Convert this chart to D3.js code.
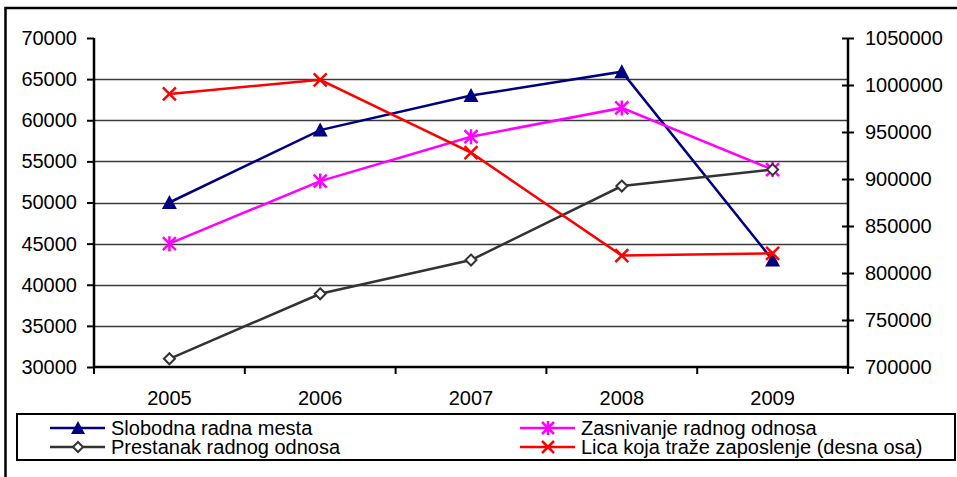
<!DOCTYPE html>
<html>
<head>
<meta charset="utf-8">
<script src="https://cdn.jsdelivr.net/npm/d3@7"></script>
<style>
	body { margin: 0; background: #fff; }
	text { font-family: "Liberation Sans", Arial, sans-serif; fill: #000; }
</style>
</head>
<body>
<div id="viz"></div>
<script>
const years = ['2005', '2006', '2007', '2008', '2009'];
const slobodna = [50000, 58800, 63000, 65900, 43000];
const zasnivanje = [45000, 52600, 58000, 61500, 54000];
const prestanak = [31000, 38900, 43000, 52000, 54000];
const lica = [990500, 1005500, 928000, 818500, 821000];
const leftTicks = [30000, 35000, 40000, 45000, 50000, 55000, 60000, 65000, 70000];
const rightTicks = [700000, 750000, 800000, 850000, 900000, 950000, 1000000, 1050000];
const seriesNames = ['Slobodna radna mesta', 'Zasnivanje radnog odnosa', 'Prestanak radnog odnosa', 'Lica koja traže zaposlenje (desna osa)'];

const W = 957, H = 477;
const PLOT = { left: 94, right: 848, top: 38, bottom: 367 };
const FONT = 20;

const series = [
	{ name: seriesNames[0], values: slobodna, axis: 'left', color: '#000080', marker: 'triangle' },
	{ name: seriesNames[1], values: zasnivanje, axis: 'left', color: '#ff00ff', marker: 'asterisk' },
	{ name: seriesNames[2], values: prestanak, axis: 'left', color: '#333333', marker: 'diamond' },
	{ name: seriesNames[3], values: lica, axis: 'right', color: '#ff0000', marker: 'cross' }
];

const svg = d3.select('#viz').append('svg')
	.attr('width', W)
	.attr('height', H);

// outer chart frame (right/bottom edges fall outside the picture)
svg.append('rect')
	.attr('x', 5.5).attr('y', 8)
	.attr('width', 960).attr('height', 480)
	.attr('fill', 'none')
	.attr('stroke', '#000')
	.attr('stroke-width', 2.5);

const xScale = d3.scaleBand()
	.domain(years)
	.range([PLOT.left, PLOT.right]);

const yLeft = d3.scaleLinear()
	.domain([30000, 70000])
	.range([PLOT.bottom, PLOT.top]);

const yRight = d3.scaleLinear()
	.domain([700000, 1050000])
	.range([PLOT.bottom, PLOT.top]);

// gridlines
svg.append('g')
	.attr('class', 'grid')
	.selectAll('line')
	.data(leftTicks.filter((t) => t > 30000 && t < 70000))
	.enter()
	.append('line')
	.attr('x1', PLOT.left).attr('x2', PLOT.right)
	.attr('y1', (d) => Math.round(yLeft(d)) + 0.5)
	.attr('y2', (d) => Math.round(yLeft(d)) + 0.5)
	.attr('stroke', '#3a3a3a')
	.attr('stroke-width', 1.3);

// left axis
const leftAxis = svg.append('g')
	.attr('transform', 'translate(' + PLOT.left + ',0)')
	.call(d3.axisLeft(yLeft).tickValues(leftTicks).tickSize(7).tickPadding(10).tickFormat(d3.format('d')));

// right axis (ticks cross the line)
const rightAxis = svg.append('g')
	.attr('transform', 'translate(' + PLOT.right + ',0)')
	.call(d3.axisRight(yRight).tickValues(rightTicks).tickSize(6).tickPadding(11).tickFormat(d3.format('d')));
rightAxis.selectAll('.tick line').attr('x1', -6);

// x axis, ticks between categories
const xAxis = svg.append('g')
	.attr('transform', 'translate(0,' + PLOT.bottom + ')')
	.call(d3.axisBottom(xScale).tickSize(0).tickPadding(24));

xAxis.selectAll('.sep')
	.data(d3.range(years.length + 1))
	.enter()
	.append('line')
	.attr('class', 'sep')
	.attr('x1', (i) => PLOT.left + i * xScale.step())
	.attr('x2', (i) => PLOT.left + i * xScale.step())
	.attr('y1', 0).attr('y2', 7)
	.attr('stroke', '#000')
	.attr('stroke-width', 2);

[leftAxis, rightAxis, xAxis].forEach((ax) => {
	ax.select('.domain').attr('stroke', '#000').attr('stroke-width', 2.5);
	ax.selectAll('.tick line').attr('stroke', '#000').attr('stroke-width', 2);
	ax.selectAll('text')
		.attr('font-size', FONT)
		.style('font-family', '"Liberation Sans", Arial, sans-serif')
		.attr('fill', '#000');
});
leftAxis.select('.domain').attr('d', 'M0,' + PLOT.top + 'V' + PLOT.bottom);
rightAxis.select('.domain').attr('d', 'M0,' + PLOT.top + 'V' + PLOT.bottom);
xAxis.select('.domain').attr('d', 'M' + PLOT.left + ',0H' + PLOT.right);

const drawMarker = (g, type, color, size) => {
	const s = size / 2;
	if (type === 'triangle') {
		g.append('path')
			.attr('d', 'M0,' + (-s - 1) + 'L' + (s + 1) + ',' + (s) + 'L' + (-s - 1) + ',' + (s) + 'Z')
			.attr('fill', color);
	} else if (type === 'diamond') {
		const r = s - 1;
		g.append('path')
			.attr('d', 'M0,' + (-r) + 'L' + r + ',0L0,' + r + 'L' + (-r) + ',0Z')
			.attr('fill', '#fff')
			.attr('stroke', color)
			.attr('stroke-width', 2);
	} else if (type === 'asterisk') {
		g.append('path')
			.attr('d', 'M' + (-s) + ',' + (-s) + 'L' + s + ',' + s + 'M' + (-s) + ',' + s + 'L' + s + ',' + (-s) + 'M0,' + (-s - 1) + 'V' + (s + 1))
			.attr('stroke', color)
			.attr('stroke-width', 2.5)
			.attr('fill', 'none');
	} else if (type === 'cross') {
		g.append('path')
			.attr('d', 'M' + (-s) + ',' + (-s) + 'L' + s + ',' + s + 'M' + (-s) + ',' + s + 'L' + s + ',' + (-s))
			.attr('stroke', color)
			.attr('stroke-width', 2.5)
			.attr('fill', 'none');
	}
};

const xCenter = (d) => xScale(d) + xScale.bandwidth() / 2;

series.forEach((s) => {
	const yScale = s.axis === 'left' ? yLeft : yRight;
	const pts = years.map((yr, i) => ({ x: xCenter(yr), y: yScale(s.values[i]) }));

	const line = d3.line()
		.x((d) => d.x)
		.y((d) => d.y);

	svg.append('path')
		.datum(pts)
		.attr('fill', 'none')
		.attr('stroke', s.color)
		.attr('stroke-width', 2.5)
		.attr('d', line);

	pts.forEach((p) => {
		const g = svg.append('g').attr('transform', 'translate(' + p.x + ',' + p.y + ')');
		drawMarker(g, s.marker, s.color, 13);
	});
});

// legend
const legend = svg.append('g').attr('class', 'legend');
legend.append('rect')
	.attr('x', 17).attr('y', 414)
	.attr('width', 938).attr('height', 46)
	.attr('fill', '#fff')
	.attr('stroke', '#000')
	.attr('stroke-width', 2);

const legendPos = [
	{ x: 50, y: 428 },
	{ x: 520, y: 428 },
	{ x: 50, y: 447 },
	{ x: 520, y: 447 }
];

series.forEach((s, i) => {
	const p = legendPos[i];
	const item = legend.append('g').attr('transform', 'translate(' + p.x + ',' + p.y + ')');
	item.append('line')
		.attr('x1', 0).attr('x2', 55)
		.attr('y1', 0).attr('y2', 0)
		.attr('stroke', s.color)
		.attr('stroke-width', 2.5);
	drawMarker(item.append('g').attr('transform', 'translate(28,0)'), s.marker, s.color, 12);
	item.append('text')
		.attr('x', 61)
		.attr('y', 7)
		.attr('font-size', FONT)
		.text(s.name);
});
</script>
</body>
</html>
